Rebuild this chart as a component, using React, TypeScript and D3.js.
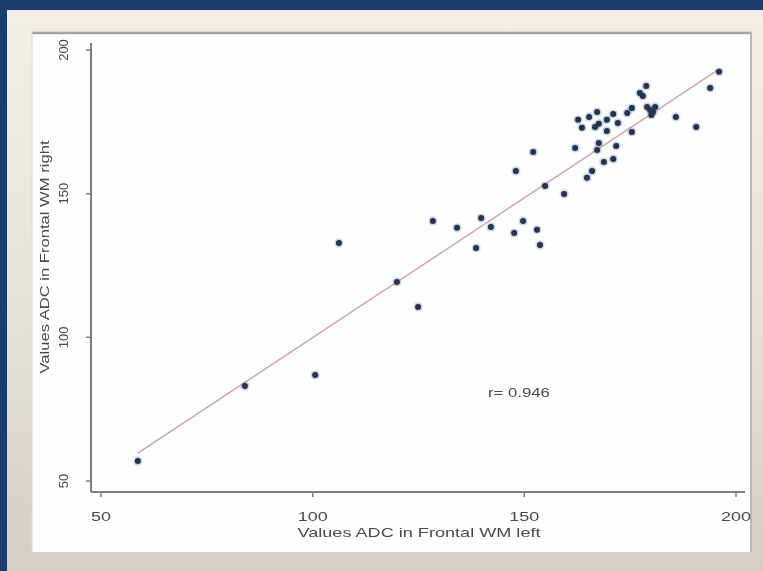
import React from 'react';
import * as d3 from 'd3';

// ADC values, frontal white matter: left (x) vs right (y)
const adcLeft = [
  58.7, 84.0, 100.6, 106.2, 119.9, 124.9, 128.4, 134.1, 138.6, 139.8,
  142.1, 147.6, 148.0, 149.7, 152.1, 153.0, 153.7, 154.9, 159.4, 162.0,
  162.7, 163.6, 164.8, 165.3, 166.0, 166.7, 167.2, 167.6, 167.6, 167.2,
  168.8, 169.5, 169.5, 171.0, 171.0, 171.7, 172.1, 174.3, 175.4, 175.4,
  177.3, 178.0, 178.8, 179.0, 179.7, 180.4, 180.9, 180.0, 185.8, 190.6,
  193.9, 196.0,
];
const adcRight = [
  57.0, 83.1, 86.9, 132.8, 119.3, 110.6, 140.5, 138.1, 131.1, 141.5,
  138.4, 136.3, 157.9, 140.5, 164.5, 137.4, 132.1, 152.7, 149.9, 165.9,
  175.7, 172.9, 155.5, 176.7, 157.9, 173.2, 178.4, 174.3, 167.6, 165.2,
  161.0, 175.7, 171.8, 177.7, 162.1, 166.6, 174.6, 178.1, 179.8, 171.5,
  185.0, 184.0, 187.5, 180.2, 179.1, 178.4, 180.2, 177.4, 176.7, 173.2,
  186.8, 192.4,
];
const xTicks = [50, 100, 150, 200];
const yTicks = [50, 100, 150, 200];
const fitIntercept = 2.6;
const fitSlope = 0.973;
const rLabel = 'r= 0.946';
const rPos = [141.4, 80.6];

const W = 763;
const H = 571;

export default function App() {
  const x = d3.scaleLinear().domain([50, 200]).range([101, 736]);
  const y = d3.scaleLinear().domain([50, 200]).range([481, 50]);

  const axisX0 = 91;
  const axisY0 = 492;

  const xMin = d3.min(adcLeft) as number;
  const xMax = d3.max(adcLeft) as number;
  const fitLine = d3.line<number>()
    .x(d => x(d))
    .y(d => y(fitIntercept + fitSlope * d))([xMin, xMax]);

  const font = '"Liberation Sans", Arial, sans-serif';
  const txt = '#4a4a4a';

  return (
    <div style={{ position: 'fixed', left: 0, top: 0 }}>
      <svg width={W} height={H} style={{ display: 'block' }}>
        <defs>
          <linearGradient id="frame" x1="0" y1="0" x2="0" y2="1">
            <stop offset="0" stopColor="#f1efe8" />
            <stop offset="0.5" stopColor="#e6e3da" />
            <stop offset="1" stopColor="#d3cfc6" />
          </linearGradient>
          <filter id="soft" x="-50%" y="-50%" width="200%" height="200%">
            <feGaussianBlur stdDeviation="0.6" />
          </filter>
        </defs>
        <rect x={0} y={0} width={W} height={H} fill="#1c3d6b" />
        <rect x={7} y={10} width={W - 7} height={H - 10} fill="url(#frame)" />
        <rect x={32} y={32} width={720} height={520} fill="#fdfefe" />
        <line x1={32} x2={752} y1={33} y2={33} stroke="#a4a4a0" strokeWidth={2.5} />
        <line x1={751} x2={751} y1={32} y2={552} stroke="#b8b8b4" strokeWidth={2} />
        <line x1={32} x2={32} y1={32} y2={552} stroke="#dcdcd8" strokeWidth={1} />

        {/* axes */}
        <g stroke="#7c7c7c" strokeWidth={2} fill="none">
          <line x1={axisX0} x2={axisX0} y1={43} y2={axisY0} />
          <line x1={axisX0} x2={745} y1={axisY0} y2={axisY0} />
          {yTicks.map(t => (
            <line key={'yt' + t} x1={axisX0 - 5} x2={axisX0} y1={y(t)} y2={y(t)} strokeWidth={1.5} />
          ))}
          {xTicks.map(t => (
            <line key={'xt' + t} x1={x(t)} x2={x(t)} y1={axisY0} y2={axisY0 + 5} strokeWidth={1.5} />
          ))}
        </g>

        <g fontFamily={font} fill={txt} filter="url(#soft)">
          {yTicks.map(t => (
            <text key={'yl' + t} transform={`translate(68,${y(t)}) rotate(-90)`}
              textAnchor="middle" fontSize={13}>{t}</text>
          ))}
          {xTicks.map(t => (
            <text key={'xl' + t} x={x(t)} y={521} textAnchor="middle" fontSize={12}
              textLength={String(t).length * 10} lengthAdjust="spacingAndGlyphs">{t}</text>
          ))}
          <text x={419} y={537} textAnchor="middle" fontSize={13}
            textLength={243} lengthAdjust="spacingAndGlyphs">Values ADC in Frontal WM left</text>
          <text transform="translate(49,257) rotate(-90)" textAnchor="middle" fontSize={13}
            textLength={233} lengthAdjust="spacingAndGlyphs">Values ADC in Frontal WM right</text>
          <text x={x(rPos[0])} y={y(rPos[1]) + 4} fontSize={12}
            textLength={62} lengthAdjust="spacingAndGlyphs">{rLabel}</text>
        </g>

        {fitLine && <path d={fitLine} stroke="#d6a2a2" strokeWidth={1.5} fill="none" />}

        <g>
          {adcLeft.map((v, i) => (
            <circle key={'h' + i} cx={x(v)} cy={y(adcRight[i])} r={4.6} fill="#6f8fb8" opacity={0.35} />
          ))}
          {adcLeft.map((v, i) => (
            <circle key={'p' + i} cx={x(v)} cy={y(adcRight[i])} r={3} fill="#27324c" />
          ))}
        </g>
      </svg>
    </div>
  );
}
